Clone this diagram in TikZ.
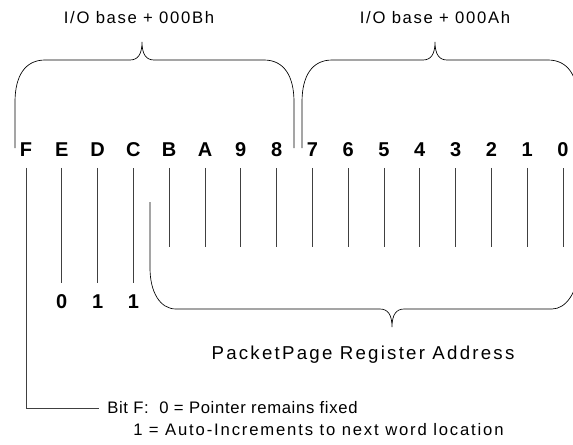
\documentclass[tikz,border=0pt]{standalone}
\usepackage{fontspec}
\setmainfont{Liberation Sans}
\newfontfamily\wideface[LetterSpace=10]{Liberation Sans}
\newfontfamily\widerface[LetterSpace=12]{Liberation Sans}
\newfontfamily\tightface[LetterSpace=4]{Liberation Sans}
\newfontfamily\noteface[LetterSpace=11]{Liberation Sans}
\newcommand{\upbrace}[3]{% left x, right x, tip x
  \draw[brace] (#1,148) -- (#1,102)
    .. controls (#1,76) and ({#1+10},60) .. ({#1+30},60) -- ({#3-12},60)
    .. controls ({#3-4},60) and (#3,54) .. (#3,42)
    .. controls (#3,54) and ({#3+4},60) .. ({#3+12},60) -- ({#2-30},60)
    .. controls ({#2-10},60) and (#2,76) .. (#2,102) -- (#2,148);
}

\begin{document}
\begin{tikzpicture}[x=0.75pt, y=-0.75pt,
    bit/.style={font=\bfseries\fontsize{15}{15}\selectfont, inner sep=0pt},
    lbl/.style={font=\wideface\fontsize{12.5}{15}\selectfont, inner sep=0pt},
    title/.style={font=\widerface\fontsize{14}{16}\selectfont, inner sep=0pt},
    tick/.style={line width=0.6pt, black!75},
    brace/.style={line width=0.5pt}]
  \useasboundingbox (0,0) rectangle (573,444);
  \clip (0,0) rectangle (573,444);

  % bit numbers
  \foreach \h [count=\k from 0] in {F,E,D,C,B,A,9,8,7,6,5,4,3,2,1,0} {
    \node[bit] (b\h) at ({26+35.8*\k},150) {\h};
  }

  % address bits
  \foreach \h in {B,A,9,8,7,6,5,4,3,2,1,0} {
    \coordinate (e\h) at (b\h.south |- 0,247);
    \draw[tick] ([yshift=-8pt]b\h.south) -- (e\h);
  }

  % fixed bits
  \foreach \h/\v in {E/0,D/1,C/1} {
    \node[bit] (v\h) at (b\h |- 0,302) {\v};
    \draw[tick] ([yshift=-8pt]b\h.south) -- ([yshift=9pt]v\h.north);
  }

  % bit F
  \node[lbl, font=\tightface\fontsize{12.5}{15}\selectfont, anchor=west] (bitf) at (107,408)
    {Bit F:\ \ 0 = Pointer remains fixed};
  \node[lbl, font=\noteface\fontsize{12.5}{15}\selectfont, anchor=west] (bitg) at (133,430)
    {1 = Auto-Increments to next word location};
  \coordinate (corner) at (bF.south |- bitf.west);
  \draw[tick] ([yshift=-8pt]bF.south) -- (corner) -- ([xshift=-6pt]bitf.west);

  % braces
  \node[lbl] (hi) at (139,18) {I/O base + 000Bh};
  \node[lbl] (lo) at (435,18) {I/O base + 000Ah};
  \upbrace{15}{294}{142}
  \upbrace{302}{578}{435}

  \draw[brace] (150,202) -- (150,268)
    .. controls (150,292) and (160,309) .. (176,309) -- (380,309)
    .. controls (388,309) and (392,315) .. (392,327)
    .. controls (392,315) and (396,309) .. (404,309) -- (552,309)
    .. controls (566,309) and (578,292) .. (578,268) -- (578,247);
  \node[title] (addr) at (363,355) {PacketPage Register Address};
\end{tikzpicture}
\end{document}
